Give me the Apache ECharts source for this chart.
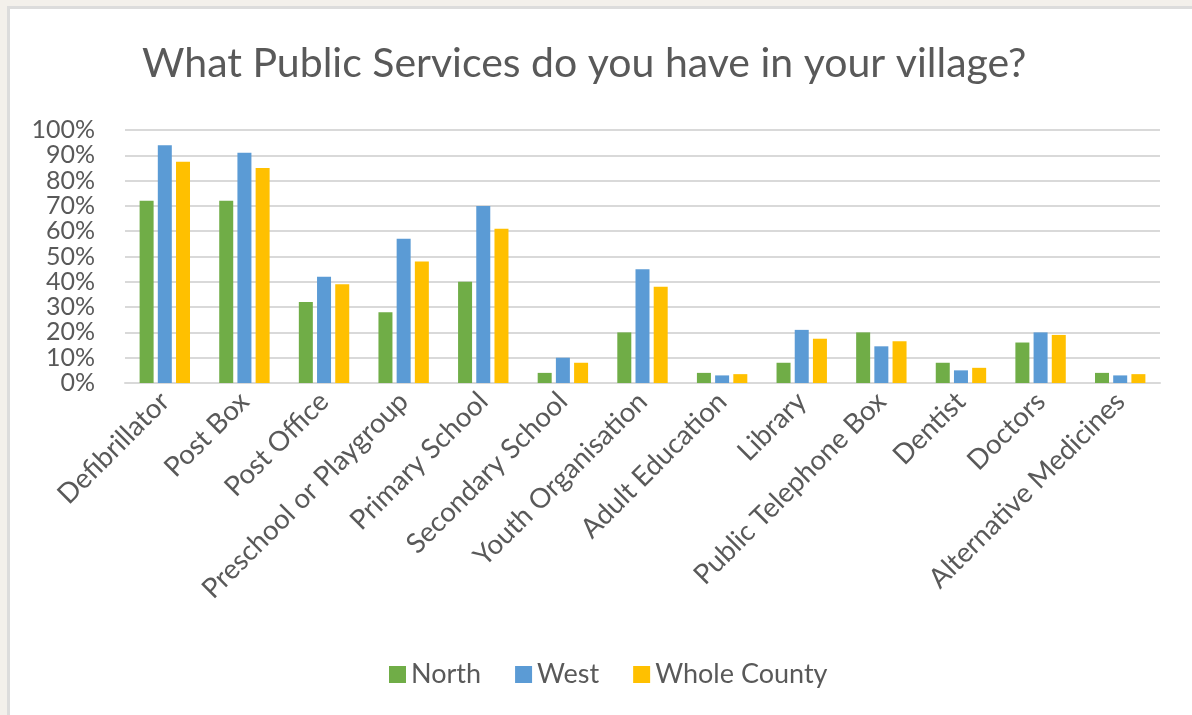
<!DOCTYPE html>
<html>
<head>
<meta charset="utf-8">
<script src="https://cdn.jsdelivr.net/npm/echarts@6/dist/echarts.min.js"></script>
<style>
  html, body { margin: 0; padding: 0; width: 1192px; height: 715px; overflow: hidden; background: #f3f0eb; }
  #card { position: absolute; left: 7px; top: 6px; right: 0; bottom: 0; background: #ffffff; border-left: 3px solid #dcdcdc; border-top: 3px solid #dcdcdc; }
  #chart { position: absolute; left: 0; top: 0; width: 1192px; height: 715px; }
</style>
</head>
<body>
<div id="card"></div>
<div id="chart"></div>
<script>
const categories = ["Defibrillator", "Post Box", "Post Office", "Preschool or Playgroup", "Primary School",
  "Secondary School", "Youth Organisation", "Adult Education", "Library", "Public Telephone Box",
  "Dentist", "Doctors", "Alternative Medicines"];
const north = [72, 72, 32, 28, 40, 4, 20, 4, 8, 20, 8, 16, 4];
const west = [94, 91, 42, 57, 70, 10, 45, 3, 21, 14.5, 5, 20, 3];
const wholeCounty = [87.5, 85, 39, 48, 61, 8, 38, 3.5, 17.5, 16.5, 6, 19, 3.5];
const yTicks = [0, 10, 20, 30, 40, 50, 60, 70, 80, 90, 100];

const FONT = 'Lato';
const TXT = '#595959';
const chart = echarts.init(document.getElementById('chart'), null, { renderer: 'canvas' });
chart.setOption({
  animation: false,
  backgroundColor: 'transparent',
  title: {
    text: 'What Public Services do you have in your village?',
    left: 137,
    top: 38,
    textStyle: { fontFamily: FONT, fontSize: 41, fontWeight: 'normal', color: TXT }
  },
  legend: {
    bottom: 22,
    left: 384,
    itemWidth: 17,
    itemHeight: 17,
    itemGap: 34,
    icon: 'rect',
    textStyle: { fontFamily: FONT, fontSize: 27, color: TXT }
  },
  grid: { left: 125, right: 32, top: 130, bottom: 332, containLabel: false },
  xAxis: {
    type: 'category',
    data: categories,
    axisLine: { lineStyle: { color: '#d9d9d9', width: 2 } },
    axisTick: { show: false },
    axisLabel: { rotate: 45, interval: 0, margin: 14, fontFamily: FONT, fontSize: 27.5, color: TXT }
  },
  yAxis: {
    type: 'value',
    min: yTicks[0],
    max: yTicks[yTicks.length - 1],
    interval: yTicks[1] - yTicks[0],
    axisLine: { show: false },
    axisTick: { show: false },
    splitLine: { lineStyle: { color: '#d9d9d9', width: 2 } },
    axisLabel: { formatter: '{value}%', fontFamily: FONT, fontSize: 25, color: TXT, margin: 30 }
  },
  series: [
    { name: 'North', type: 'bar', data: north, barWidth: 14, barGap: '30%', itemStyle: { color: '#70AD47' } },
    { name: 'West', type: 'bar', data: west, barWidth: 14, barGap: '30%', itemStyle: { color: '#5B9BD5' } },
    { name: 'Whole County', type: 'bar', data: wholeCounty, barWidth: 14, barGap: '30%', itemStyle: { color: '#FFC000' } }
  ]
});
</script>
</body>
</html>
